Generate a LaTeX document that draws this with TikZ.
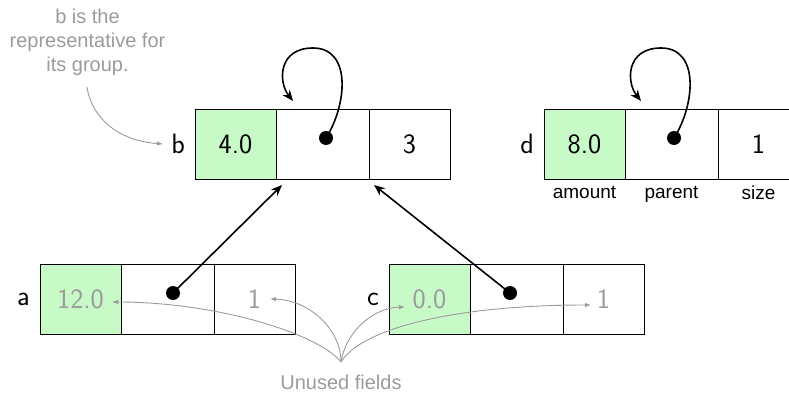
\documentclass[tikz,border=0pt]{standalone}
\usepackage{fontspec}
\newfontfamily\arialf{Liberation Sans}
\usetikzlibrary{arrows.meta}
\definecolor{cellgreen}{RGB}{200,250,200}
\definecolor{notegray}{RGB}{155,155,155}
\begin{document}
\begin{tikzpicture}[x=1pt,y=-1pt,
  cellbox/.style={draw=black, line width=1pt, minimum height=70pt, inner sep=0pt, outer sep=0pt, anchor=north west,
    font=\sffamily\fontsize{28}{32}\selectfont},
  cellamt/.style={cellbox, fill=cellgreen, minimum width=81pt},
  cellpar/.style={cellbox, minimum width=93pt},
  cellsize/.style={cellbox, minimum width=81pt},
  grayval/.style={text=notegray},
  rowlbl/.style={inner sep=0pt, anchor=east, font=\sffamily\fontsize{28}{32}\selectfont},
  fieldlbl/.style={inner sep=0pt, anchor=north, font=\arialf\fontsize{19}{22}\selectfont},
  note/.style={text=notegray, align=center, inner sep=0pt, font=\arialf\fontsize{20}{24}\selectfont},
  ptrdot/.style={circle, fill=black, minimum size=14pt, inner sep=0pt},
  ptr/.style={line width=1.6pt, -{Stealth[length=11pt,width=9pt]}},
  noteptr/.style={draw=notegray, line width=0.9pt, -{Latex[length=6pt,width=4.5pt]}}
]
\useasboundingbox (0,0) rectangle (789,396);

% b
\node[cellamt] (b1) at (195,109) {4.0};
\node[cellpar] (b2) at (b1.north east) {};
\node[cellsize] (b3) at (b2.north east) {3};
\node[rowlbl] (bl) at ([xshift=-10pt]b1.west) {b};
% d
\node[cellamt] (d1) at (544,109) {8.0};
\node[cellpar] (d2) at (d1.north east) {};
\node[cellsize] (d3) at (d2.north east) {1};
\node[rowlbl] (dl) at ([xshift=-10pt]d1.west) {d};
\node[fieldlbl] (fa) at ([yshift=-7pt]d1.south) {amount};
\node[fieldlbl] (fp) at ([yshift=-7pt]d2.south) {parent};
\node[fieldlbl] (fs) at ([yshift=-7pt]d3.south) {size};
% a
\node[cellamt, grayval] (a1) at (40,264) {12.0};
\node[cellpar] (a2) at (a1.north east) {};
\node[cellsize, grayval] (a3) at (a2.north east) {1};
\node[rowlbl] (al) at ([xshift=-10pt]a1.west) {a};
% c
\node[cellamt, grayval] (c1) at (389,264) {0.0};
\node[cellpar] (c2) at (c1.north east) {};
\node[cellsize, grayval] (c3) at (c2.north east) {1};
\node[rowlbl] (cl) at ([xshift=-10pt]c1.west) {c};

% pointer dots
\node[ptrdot] (bp) at (326,138) {};
\node[ptrdot] (dp) at (674,138) {};
\node[ptrdot] (ap) at (173,293) {};
\node[ptrdot] (cp) at (510,293) {};

% self loops
\coordinate (bt) at (293,101);
\coordinate (dt) at (641,101);
\draw[ptr] (bp.center) .. controls (347,105) and (352,48) .. (313,48)
  .. controls (278,48) and (278,82) .. (bt);
\draw[ptr] (dp.center) .. controls (695,105) and (700,48) .. (661,48)
  .. controls (626,48) and (626,82) .. (dt);

% pointers to b
\draw[ptr] (ap.center) -- ([shift={(6pt,-6pt)}]b2.south west);
\draw[ptr] (cp.center) -- ([shift={(5pt,-6pt)}]b3.south west);

% annotations
\node[note] (n1) at (87.5,42) {b is the\\representative for\\its group.};
\coordinate (n1s) at (87,87);
\draw[noteptr] (n1s) .. controls (90,110) and (110,140) .. ([xshift=-8pt]bl.west);

\node[note, anchor=north] (n2) at (341,375) {Unused fields};
\coordinate (n2s) at (341,362);
\draw[noteptr] (n2s) .. controls (320,335) and (220,302) .. (112,302);
\draw[noteptr] (n2s) .. controls (341,330) and (310,300) .. (270,299);
\draw[noteptr] (n2s) .. controls (345,335) and (370,308) .. (405,307);
\draw[noteptr] (n2s) .. controls (360,330) and (450,305) .. (591,305);
\end{tikzpicture}
\end{document}
